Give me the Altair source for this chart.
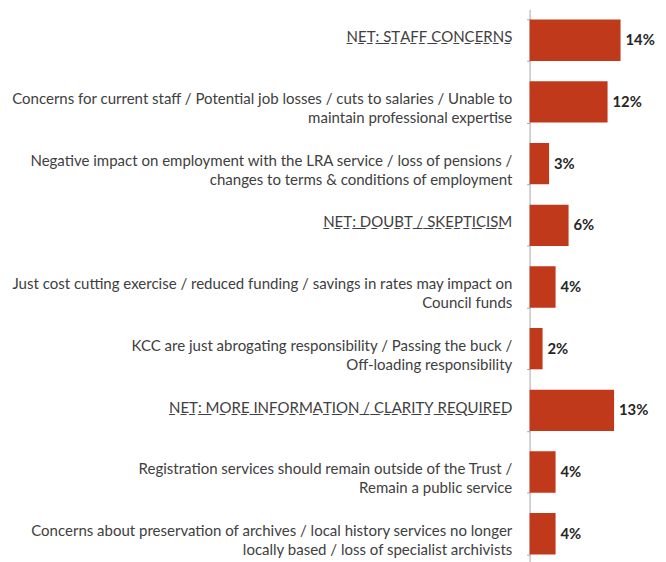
import altair as alt
import pandas as pd

labels = [
    "NET: STAFF CONCERNS",
    "Concerns for current staff / Potential job losses / cuts to salaries / Unable to|maintain professional expertise",
    "Negative impact on employment with the LRA service / loss of pensions /|changes to terms & conditions of employment",
    "NET: DOUBT / SKEPTICISM",
    "Just cost cutting exercise / reduced funding / savings in rates may impact on|Council funds",
    "KCC are just abrogating responsibility / Passing the buck /|Off-loading responsibility",
    "NET: MORE INFORMATION / CLARITY REQUIRED",
    "Registration services should remain outside of the Trust /|Remain a public service",
    "Concerns about preservation of archives / local history services no longer|locally based / loss of specialist archivists",
]
values = [14, 12, 3, 6, 4, 2, 13, 4, 4]
is_net = [True, False, False, True, False, False, True, False, False]


def underline(s):
    return " " + "".join("\u0332" + c for c in s)


display = [underline(l) if n else l for l, n in zip(labels, is_net)]

df = pd.DataFrame({
    "label": display,
    "value": values,
    "text": [f"{v}%" for v in values],
})

FONT = "Lato"

y = alt.Y(
    "label:N",
    sort=None,
    scale=alt.Scale(range=[-2, 560], paddingInner=0.33, paddingOuter=0.165),
    axis=alt.Axis(
        title=None,
        domainColor="#A6A6A6",
        tickColor="#A6A6A6",
        tickSize=3,
        tickBand="extent",
        labelPadding=15,
        labelLimit=0,
        labelOffset=-3.3,
        labelExpr="split(datum.label, '|')",
        labelLineHeight=19.5,
        labelFont=FONT,
        labelFontSize=15.2,
        labelColor="#404040",
    ),
)
x = alt.X("value:Q", scale=alt.Scale(domain=[0, 19]), axis=None)

bars = alt.Chart(df).mark_bar(color="#C0391B").encode(y=y, x=x)
text = alt.Chart(df).mark_text(
    align="left", dx=5, font=FONT, fontSize=15, fontWeight="bold", color="#262626"
).encode(y=y, x=x, text="text:N")

chart = (
    (bars + text)
    .properties(
        width=125,
        height=554,
        autosize=alt.AutoSizeParams(type="none"),
        padding={"left": 528, "right": 5, "top": 0, "bottom": 0},
    )
    .configure_view(stroke=None)
)

chart.save("out.html", embed_options={"renderer": "svg", "actions": False})
